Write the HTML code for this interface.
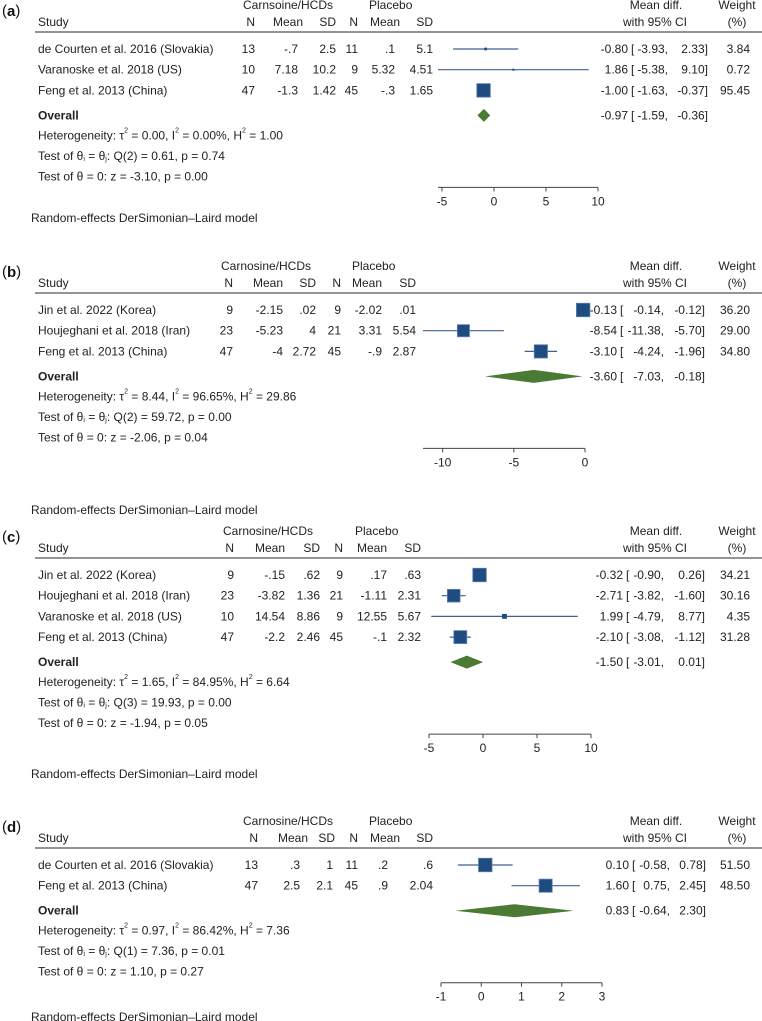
<!DOCTYPE html>
<html><head><meta charset="utf-8"><style>
html,body{margin:0;padding:0;background:#fff;}
svg{display:block;font-family:"Liberation Sans",Arial,sans-serif;}
</style></head><body>
<svg id="chart" width="762" height="1021" viewBox="0 0 762 1021" xmlns="http://www.w3.org/2000/svg"></svg>
<script>
const panelLetters = ['a','b','c','d'];
const groupLabel = ['Carnsoine/HCDs','Carnosine/HCDs','Carnosine/HCDs','Carnosine/HCDs'];
const studyNames = [
  ['de Courten et al. 2016 (Slovakia)','Varanoske et al. 2018 (US)','Feng et al. 2013 (China)'],
  ['Jin et al. 2022 (Korea)','Houjeghani et al. 2018 (Iran)','Feng et al. 2013 (China)'],
  ['Jin et al. 2022 (Korea)','Houjeghani et al. 2018 (Iran)','Varanoske et al. 2018 (US)','Feng et al. 2013 (China)'],
  ['de Courten et al. 2016 (Slovakia)','Feng et al. 2013 (China)']
];
const treatN = [[13,10,47],[9,23,47],[9,23,10,47],[13,47]];
const treatMean = [['-.7','7.18','-1.3'],['-2.15','-5.23','-4'],['-.15','-3.82','14.54','-2.2'],['.3','2.5']];
const treatSD = [['2.5','10.2','1.42'],['.02','4','2.72'],['.62','1.36','8.86','2.46'],['1','2.1']];
const placN = [[11,9,45],[9,21,45],[9,21,9,45],[11,45]];
const placMean = [['.1','5.32','-.3'],['-2.02','3.31','-.9'],['.17','-1.11','12.55','-.1'],['.2','.9']];
const placSD = [['5.1','4.51','1.65'],['.01','5.54','2.87'],['.63','2.31','5.67','2.32'],['.6','2.04']];
const effect = [[-0.80,1.86,-1.00],[-0.13,-8.54,-3.10],[-0.32,-2.71,1.99,-2.10],[0.10,1.60]];
const lower = [[-3.93,-5.38,-1.63],[-0.14,-11.38,-4.24],[-0.90,-3.82,-4.79,-3.08],[-0.58,0.75]];
const upper = [[2.33,9.10,-0.37],[-0.12,-5.70,-1.96],[0.26,-1.60,8.77,-1.12],[0.78,2.45]];
const weights = [[3.84,0.72,95.45],[36.20,29.00,34.80],[34.21,30.16,4.35,31.28],[51.50,48.50]];
const overallEst = [-0.97,-3.60,-1.50,0.83];
const overallLo = [-1.59,-7.03,-3.01,-0.64];
const overallHi = [-0.36,-0.18,0.01,2.30];
const tau2 = ['0.00','8.44','1.65','0.97'];
const i2 = ['0.00','96.65','84.95','86.42'];
const h2 = ['1.00','29.86','6.64','7.36'];
const qDf = [2,2,3,1];
const qVal = ['0.61','59.72','19.93','7.36'];
const qP = ['0.74','0.00','0.00','0.01'];
const zVal = ['-3.10','-2.06','-1.94','1.10'];
const zP = ['0.00','0.04','0.05','0.27'];
const ticks = [[-5,0,5,10],[-10,-5,0],[-5,0,5,10],[-1,0,1,2,3]];

// layout
const baseY = [5,266,531,821];
const randomY = [218,510,774,1017];
const pxRange = [[438,598],[423,585],[429,591],[441,602]];
const colRight = [[255,298,336,358,395,433],[233,283,316,341,382,416],[234,285,320,343,387,421],[258,300,333,358,388,433]];
const headRight = [[255,303,336,358,400,433],[233,283,316,341,382,416],[234,285,320,343,387,421],[258,308,335,358,400,433]];
const groupCenter = [288,266,268,288];
const placLeft = [369,352,355,369];
const estEnd = [628,617,623,629];
const lowEnd = [668,664,664,670];
const upEnd = [708,705,705,706];

const NS = 'http://www.w3.org/2000/svg';
const svg = document.getElementById('chart');
const TXT = '#222';
const FS = 12;
function mk(tag, attrs, parent){
  const e = document.createElementNS(NS, tag);
  for (const k in attrs) e.setAttribute(k, attrs[k]);
  (parent||svg).appendChild(e);
  return e;
}
function txt(parent, x, y, s, anchor, extra){
  const e = mk('text', Object.assign({x:x, y:y, 'font-size':FS, fill:TXT, 'text-anchor':anchor||'start', 'dominant-baseline':'central'}, extra||{}), parent);
  e.textContent = s;
  return e;
}
function fmt(v){ return v.toFixed(2); }

panelLetters.forEach((L, p) => {
  const g = mk('g', {});
  
  
  const b = baseY[p];
  const cols = colRight[p];
  const ys = [];
  for (let i = 0; i < studyNames[p].length; i++) ys.push(b + 44 + i * 20.7);
  const yOverall = ys[ys.length-1] + 25;
  const yHet = yOverall + 20, yQ = yHet + 20.5, yZ = yQ + 20.5;
  const yAxis = yZ + 11, yTick = yZ + 25;

  let dmin = Math.min(ticks[p][0], ...lower[p]);
  let dmax = Math.max(ticks[p][ticks[p].length-1], ...upper[p]);
  const r = pxRange[p];
  const xs = v => r[0] + (v - dmin) / (dmax - dmin) * (r[1] - r[0]);

  const lab = mk('text', {x:2, y:b+6, 'font-size':15, fill:'#111', 'dominant-baseline':'central'}, g);
  lab.innerHTML = '(<tspan font-weight="bold">' + L + '</tspan>)';
  
  

  let e;
  e = txt(g, groupCenter[p], b, groupLabel[p], 'middle');
  
  
  e = txt(g, placLeft[p], b, 'Placebo', 'start');
  
  
  e = txt(g, 656, b, 'Mean diff.', 'middle');
  
  
  e = txt(g, 737, b, 'Weight', 'middle');
  
  
  e = txt(g, 38, b+17, 'Study', 'start');
  
  
  ['N','Mean','SD','N','Mean','SD'].forEach((h, k) => {
    const he = txt(g, headRight[p][k], b+17, h, 'end');
    
    
  });
  e = txt(g, 655, b+17, 'with 95% CI', 'middle');
  
  
  e = txt(g, 737, b+17, '(%)', 'middle');
  
  
  const rule = mk('line', {x1:35, x2:762, y1:b+27, y2:b+27, stroke:'#555', 'stroke-width':1.3}, g);
  
  

  const wmax = Math.max(...weights[p]);
  studyNames[p].forEach((name, i) => {
    const y = ys[i];
    const row = mk('g', {}, g);
    
    
    let t = txt(row, 38, y, name, 'start');
    
    
    const vals = [treatN[p][i], treatMean[p][i], treatSD[p][i], placN[p][i], placMean[p][i], placSD[p][i]];
    vals.forEach((v, k) => {
      const c = txt(row, cols[k], y, String(v), 'end');
      
      
    });
    const ci = mk('line', {x1:xs(lower[p][i]), x2:xs(upper[p][i]), y1:y, y2:y, stroke:'#3d6190', 'stroke-width':1.2}, row);
    
    
    const s = Math.max(2, 13.5 * Math.sqrt(weights[p][i] / wmax));
    const sq = mk('rect', {x:xs(effect[p][i]) - s/2, y:y - s/2, width:s, height:s, fill:'#1f4b80', stroke:'#5a80ad', 'stroke-width': s > 5 ? 0.8 : 0}, row);
    
    
    t = txt(row, estEnd[p], y, fmt(effect[p][i]), 'end');
    
    
    t = txt(row, estEnd[p] + 3, y, '[', 'start');
    
    
    t = txt(row, lowEnd[p], y, fmt(lower[p][i]) + ',', 'end');
    
    
    t = txt(row, upEnd[p], y, fmt(upper[p][i]) + ']', 'end');
    
    
    t = txt(row, 750, y, fmt(weights[p][i]), 'end');
    
    
  });

  e = txt(g, 38, yOverall, 'Overall', 'start', {'font-weight':'bold'});
  
  
  const xl = xs(overallLo[p]), xm = xs(overallEst[p]), xh = xs(overallHi[p]);
  const dia = mk('polygon', {points: xl+','+yOverall+' '+xm+','+(yOverall-6.5)+' '+xh+','+yOverall+' '+xm+','+(yOverall+6.5), fill:'#4a7a33'}, g);
  
  
  e = txt(g, estEnd[p], yOverall, fmt(overallEst[p]), 'end');
  
  
  e = txt(g, estEnd[p] + 3, yOverall, '[', 'start');
  
  
  e = txt(g, lowEnd[p], yOverall, fmt(overallLo[p]) + ',', 'end');
  
  
  e = txt(g, upEnd[p], yOverall, fmt(overallHi[p]) + ']', 'end');
  
  

  const het = mk('text', {x:38, y:yHet, 'font-size':FS, fill:TXT, 'dominant-baseline':'central'}, g);
  het.innerHTML = 'Heterogeneity: τ<tspan font-size="7" dy="-5">2</tspan><tspan dy="5"> = ' + tau2[p] + ', I</tspan><tspan font-size="7" dy="-5">2</tspan><tspan dy="5"> = ' + i2[p] + '%, H</tspan><tspan font-size="7" dy="-5">2</tspan><tspan dy="5"> = ' + h2[p] + '</tspan>';
  
  
  const qt = mk('text', {x:38, y:yQ, 'font-size':FS, fill:TXT, 'dominant-baseline':'central'}, g);
  qt.innerHTML = 'Test of θ<tspan font-size="7" dy="3">i</tspan><tspan dy="-3"> = θ</tspan><tspan font-size="7" dy="3">j</tspan><tspan dy="-3">: Q(' + qDf[p] + ') = ' + qVal[p] + ', p = ' + qP[p] + '</tspan>';
  
  
  e = txt(g, 38, yZ, 'Test of θ = 0: z = ' + zVal[p] + ', p = ' + zP[p], 'start');
  
  

  const ax = mk('line', {x1:r[0], x2:r[1], y1:yAxis, y2:yAxis, stroke:'#444', 'stroke-width':1}, g);
  
  
  ticks[p].forEach(tv => {
    const tk = mk('line', {x1:xs(tv), x2:xs(tv), y1:yAxis, y2:yAxis+4, stroke:'#444', 'stroke-width':1}, g);
    
    
    const tl = txt(g, xs(tv), yTick, String(tv), 'middle');
    
    
  });
  e = txt(g, 31, randomY[p], 'Random-effects DerSimonian–Laird model', 'start');
  
  
});
</script>
</body></html>
